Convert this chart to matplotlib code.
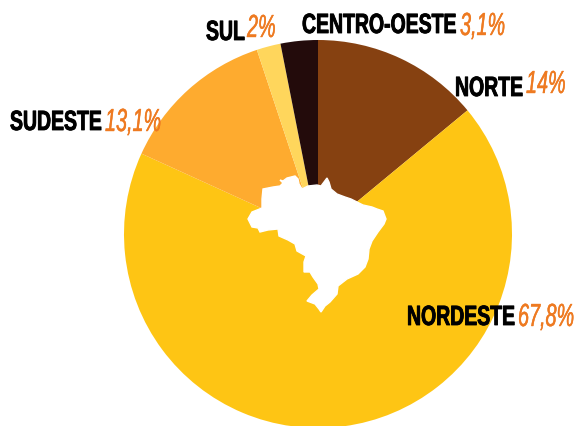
import matplotlib
matplotlib.use('Agg')
import matplotlib.pyplot as plt
from matplotlib import font_manager
from matplotlib.patches import Polygon
import matplotlib.patheffects as pe
from fontTools.ttLib import TTFont

regioes = ['NORTE', 'NORDESTE', 'SUDESTE', 'SUL', 'CENTRO-OESTE']
valores = [14, 67.8, 13.1, 2, 3.1]
rotulos = ['14%', '67,8%', '13,1%', '2%', '3,1%']
cores = ['#864111', '#FEC514', '#FEAB2F', '#FFD65C', '#230B0B']

# outline of the map, traced by hand, in image pixels
mapa_x = [280, 283, 287, 295, 298, 299, 302, 308, 317, 321, 324, 327, 329, 331, 337, 345, 351, 357,
          363, 372, 377, 383, 386, 384, 378, 372, 369, 368, 365, 358, 347, 338, 337, 330, 325, 321,
          319, 315, 307, 312, 319, 318, 313, 310, 304, 304, 306, 297, 295, 288, 279, 278, 268, 260,
          258, 252, 248, 252, 262, 262, 263, 273, 280, 283]
mapa_y = [181, 182, 179, 177, 180, 185, 190, 187, 186, 187, 183, 179, 183, 190, 195, 198, 200, 203,
          206, 208, 210, 212, 220, 225, 233, 242, 250, 260, 268, 275, 280, 287, 295, 303, 307, 313,
          310, 305, 302, 296, 290, 285, 278, 273, 273, 263, 257, 252, 245, 241, 237, 230, 231, 233,
          229, 228, 220, 213, 209, 200, 190, 188, 187, 184]


# no condensed font installed, so write a narrower copy of Liberation Sans
def fonte_estreita(arquivo, fator, **estilo):
    origem = font_manager.findfont(font_manager.FontProperties(family='Liberation Sans', **estilo))
    f = TTFont(origem)
    glyf = f['glyf']
    for nome in f.getGlyphOrder():
        g = glyf[nome]
        if g.isComposite():
            for c in g.components:
                c.x = round(c.x * fator)
        elif g.numberOfContours > 0:
            g.coordinates.scale((fator, 1))
            g.coordinates.toInt()
        g.recalcBounds(glyf)
        largura, lsb = f['hmtx'][nome]
        f['hmtx'][nome] = (round(largura * fator), round(lsb * fator))
    if 'kern' in f:
        del f['kern']
    f.save(arquivo)
    return font_manager.FontProperties(fname=arquivo)


fonte_nome = fonte_estreita('nome.ttf', 0.70, weight='bold')
fonte_pct = fonte_estreita('pct.ttf', 0.62, style='italic')

fig = plt.figure(figsize=(5.79, 4.27), dpi=100)
ax = fig.add_axes([0, 0, 1, 1])
ax.pie(valores, colors=cores, startangle=90, counterclock=False,
       center=(318, 427 - 235), radius=194)
ax.set_xlim(0, 579)
ax.set_ylim(0, 427)
ax.axis('off')

ax.add_patch(Polygon(list(zip(mapa_x, [427 - y for y in mapa_y])), closed=True, color='white', zorder=5))

nome_pos = [(455, 97), (407, 326), (10, 131), (206, 41), (302, 34)]
pct_pos = [(526, 94), (518, 327), (105, 132), (247, 38), (460, 36)]
for r, p, n_xy, p_xy in zip(regioes, rotulos, nome_pos, pct_pos):
    t = ax.text(n_xy[0], 427 - n_xy[1], r, ha='left', va='baseline', zorder=6,
                fontproperties=fonte_nome, color='black', fontsize=20)
    t.set_path_effects([pe.withStroke(linewidth=0.6, foreground='black')])
    t = ax.text(p_xy[0], 427 - p_xy[1], p, ha='left', va='baseline', zorder=6,
                fontproperties=fonte_pct, color='#EE7A21', fontsize=23)
    t.set_path_effects([pe.withStroke(linewidth=0.3, foreground='#EE7A21')])

plt.savefig('out.png', dpi=100)
